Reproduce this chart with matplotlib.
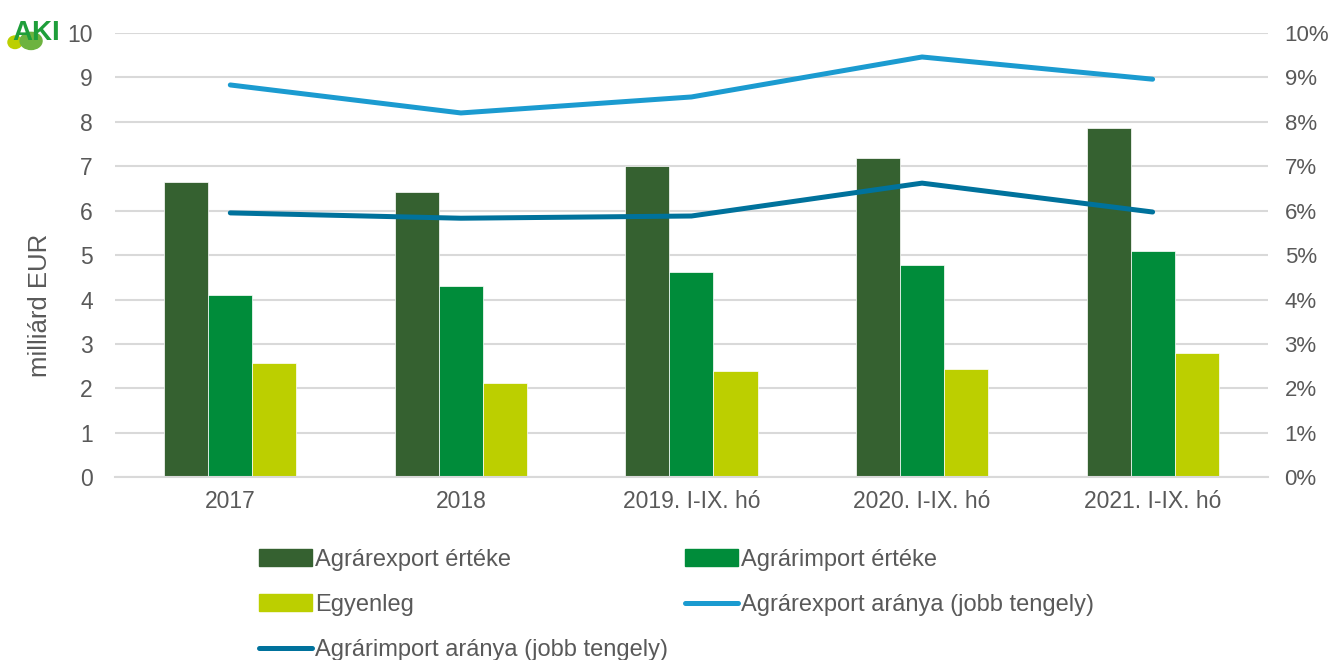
import matplotlib.pyplot as plt
import numpy as np
from matplotlib.patches import Patch, Ellipse
from matplotlib.lines import Line2D
from matplotlib.ticker import FuncFormatter

plt.rcParams['font.family'] = ['Liberation Sans', 'DejaVu Sans']

# Adatok
kategoriak = ['2017', '2018', '2019. I-IX. hó', '2020. I-IX. hó', '2021. I-IX. hó']
export_ertek = [6.64, 6.42, 7.00, 7.18, 7.86]
import_ertek = [4.10, 4.30, 4.62, 4.77, 5.09]
egyenleg = [2.56, 2.13, 2.40, 2.43, 2.79]
export_arany = [8.83, 8.20, 8.56, 9.46, 8.96]
import_arany = [5.95, 5.83, 5.88, 6.62, 5.97]

szurke = '#595959'
racs = '#D9D9D9'
c_exp = '#356130'
c_imp = '#008C3A'
c_egy = '#BCCF00'
c_exp_ar = '#1B9BD0'
c_imp_ar = '#00729C'

fig = plt.figure(figsize=(13.39, 6.6), dpi=100)
ax = fig.add_axes([0.0859, 0.277, 0.861, 0.673])

x = np.arange(len(kategoriak))
w = 0.191
ax.bar(x - w, export_ertek, w, color=c_exp, edgecolor='white', linewidth=0.5, zorder=2)
ax.bar(x, import_ertek, w, color=c_imp, edgecolor='white', linewidth=0.5, zorder=2)
ax.bar(x + w, egyenleg, w, color=c_egy, edgecolor='white', linewidth=0.5, zorder=2)

ax.set_xlim(-0.5, len(kategoriak) - 0.5)
ax.set_ylim(0, 10)
ax.set_yticks(range(0, 11))
ax.set_xticks(x)
ax.set_xticklabels(kategoriak)
ax.grid(axis='y', color=racs, linewidth=1.5, zorder=0)
ax.set_axisbelow(True)
for s in ['top', 'right', 'left']:
    ax.spines[s].set_visible(False)
ax.spines['bottom'].set_color(racs)
ax.spines['bottom'].set_linewidth(1.5)
ax.tick_params(axis='x', length=0, labelsize=16.5, colors=szurke, pad=9)
ax.tick_params(axis='y', length=0, labelsize=16.5, colors=szurke, pad=16)
ax.set_ylabel('milliárd EUR', fontsize=18.5, color=szurke)
ax.yaxis.set_label_coords(-0.055, 0.387)

# Jobb tengely
ax2 = ax.twinx()
ax2.plot(x, export_arany, color=c_exp_ar, linewidth=3.6, solid_capstyle='round', zorder=3)
ax2.plot(x, import_arany, color=c_imp_ar, linewidth=3.6, solid_capstyle='round', zorder=3)
ax2.set_ylim(0, 10)
ax2.set_yticks(range(0, 11))
ax2.yaxis.set_major_formatter(FuncFormatter(lambda v, p: f'{int(v)}%'))
for s in ax2.spines.values():
    s.set_visible(False)
ax2.tick_params(length=0, labelsize=16, colors=szurke, pad=12)

# Jelmagyarázat (Excel-szerű elrendezés)
elemek = [
    (Patch(color=c_exp), 'Agrárexport értéke', 259, 560),
    (Patch(color=c_imp), 'Agrárimport értéke', 685, 560),
    (Patch(color=c_egy), 'Egyenleg', 259, 605),
    (Line2D([], [], color=c_exp_ar, linewidth=3.6, solid_capstyle='round'),
     'Agrárexport aránya (jobb tengely)', 685, 605),
    (Line2D([], [], color=c_imp_ar, linewidth=3.6, solid_capstyle='round'),
     'Agrárimport aránya (jobb tengely)', 259, 650),
]
for h, lab, px, py in elemek:
    fig.legend([h], [lab], loc='center left',
               bbox_to_anchor=(px / 1339, 1 - py / 660),
               frameon=False, fontsize=17, labelcolor=szurke,
               handlelength=2.25, handleheight=0.75, handletextpad=0.12,
               borderpad=0, borderaxespad=0)

# Logó
fig.patches.append(Ellipse((0.0112, 0.936), 0.0105, 0.019, color='#BCCF00',
                           transform=fig.transFigure, zorder=1))
fig.patches.append(Ellipse((0.0232, 0.938), 0.0164, 0.026, color='#6DB33F',
                           transform=fig.transFigure, zorder=1))
fig.text(0.0095, 0.940, 'AKI', fontsize=20, fontweight='bold',
         color='#1E9E3A', zorder=2)

fig.savefig('out.png', dpi=100)
